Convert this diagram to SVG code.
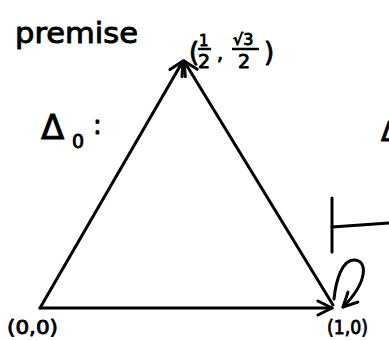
<svg xmlns="http://www.w3.org/2000/svg" width="389" height="340" viewBox="0 0 389 340">
<style>
.t{font-family:"DejaVu Sans","Liberation Sans",sans-serif;fill:#000;stroke:#000;stroke-width:0.9;stroke-linejoin:round}
.ln{stroke:#000;stroke-width:3;fill:none;stroke-linecap:round;stroke-linejoin:round}
</style>
<defs>
<marker id="ah" viewBox="0 0 20 20" refX="18" refY="10" markerWidth="20" markerHeight="20" markerUnits="userSpaceOnUse" orient="auto">
<path d="M4,3 L18,10 L4,17" fill="none" stroke="#000" stroke-width="3" stroke-linecap="round" stroke-linejoin="round"/>
</marker>
</defs>
<rect width="389" height="340" fill="#fff"/>
<text class="t" x="15" y="43" font-size="28" textLength="123" lengthAdjust="spacingAndGlyphs">premise</text>
<g id="labels">
<text class="t" x="41" y="139" font-size="34">Δ</text>
<text class="t" x="72" y="148" font-size="19">0</text>
<text class="t" x="93" y="134" font-size="26">:</text>
<text class="t" x="381" y="141" font-size="26">Δ</text>
</g>
<g id="n_top">
<text class="t" x="189" y="61" font-size="26">(</text>
<text class="t" x="199" y="46" font-size="15">1</text>
<line x1="198" y1="49" x2="211" y2="49" stroke="#000" stroke-width="2.5"/>
<text class="t" x="198" y="68" font-size="19">2</text>
<text class="t" x="217" y="60" font-size="19">,</text>
<text class="t" x="233" y="45" font-size="16">√3</text>
<line x1="232" y1="49" x2="259" y2="49" stroke="#000" stroke-width="2.5"/>
<text class="t" x="238" y="68" font-size="19">2</text>
<text class="t" x="264" y="61" font-size="26">)</text>
</g>
<g id="n_00">
<text class="t" x="7" y="334" font-size="20" textLength="51" lengthAdjust="spacingAndGlyphs">(0,0)</text>
</g>
<g id="n_10">
<text class="t" x="327" y="334" font-size="20" textLength="41" lengthAdjust="spacingAndGlyphs">(1,0)</text>
</g>
<g id="connectors">
<line class="ln" x1="40" y1="308" x2="183" y2="61" marker-end="url(#ah)"/>
<line class="ln" x1="333" y1="305" x2="184" y2="61" marker-end="url(#ah)"/>
<line class="ln" x1="40" y1="308" x2="332" y2="308" marker-end="url(#ah)"/>
<path class="ln" d="M334,299 C336,280 342,260 354,260 C368,260 368,282 343,307" marker-end="url(#ah)"/>
</g>
<g id="turnstile">
<line class="ln" x1="332" y1="198" x2="332" y2="252"/>
<line class="ln" x1="332" y1="227" x2="389" y2="223"/>
</g>
</svg>
